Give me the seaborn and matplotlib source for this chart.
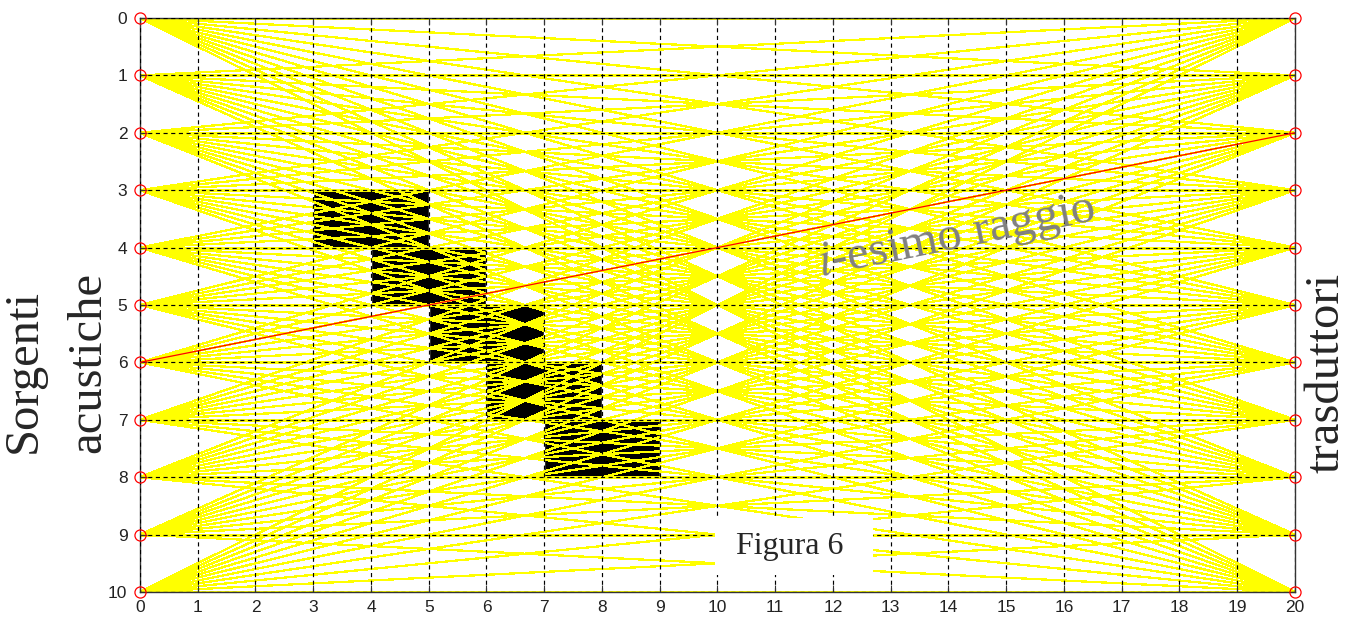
import numpy as np
import pandas as pd
import matplotlib.pyplot as plt
import seaborn as sns
from matplotlib.patches import Rectangle

sns.set_style('ticks')
plt.rcParams['font.family'] = ['Liberation Sans', 'DejaVu Sans']
plt.rcParams['mathtext.fontset'] = 'stix'

# geometry of the experiment
x_src = 0
x_rcv = 20
sources = [0, 1, 2, 3, 4, 5, 6, 7, 8, 9, 10]
receivers = [0, 1, 2, 3, 4, 5, 6, 7, 8, 9, 10]

# highlighted ray (source 6 -> receiver 2)
ray_src = 6
ray_rcv = 2

# anomaly blocks (left edge, top row, width in cells)
block_left = [3, 4, 5, 6, 7]
block_top = [3, 4, 5, 6, 7]
block_width = [2, 2, 2, 2, 2]

#%%
rows = []
for s in sources:
    for r in receivers:
        rows.append({'ray': f'{s}-{r}', 'x': x_src, 'y': s})
        rows.append({'ray': f'{s}-{r}', 'x': x_rcv, 'y': r})
rays = pd.DataFrame(rows)
ray_i = pd.DataFrame({'x': [x_src, x_rcv], 'y': [ray_src, ray_rcv]})

#%%
fig = plt.figure(figsize=(13.55, 6.18), dpi=100)
ax = fig.add_axes([0.1033, 0.0421, 0.8524, 0.9288])

ax.barh(block_top, block_width, left=block_left, height=1, align='edge',
        color='black', zorder=1)
sns.lineplot(data=rays, x='x', y='y', units='ray', estimator=None,
             color='#ffff00', lw=0.9, antialiased=False, ax=ax,
             legend=False, zorder=2)
sns.lineplot(data=ray_i, x='x', y='y', color='red', lw=0.9, ax=ax,
             legend=False, zorder=3.5)
ax.plot([x_src] * len(sources), sources, 'o', mfc='none', mec='red',
        ms=8, mew=0.9, clip_on=False, zorder=5)
ax.plot([x_rcv] * len(receivers), receivers, 'o', mfc='none', mec='red',
        ms=8, mew=0.9, clip_on=False, zorder=5)

ax.set_xlim(0, 20)
ax.set_ylim(10, 0)
ax.set_xticks(range(0, 21))
ax.set_yticks(range(0, 11))
ax.set_xlabel('')
ax.set_ylabel('')
ax.set_axisbelow(False)
ax.grid(True, color='black', ls=(0, (3.5, 3)), lw=0.85)
ax.tick_params(direction='in', length=5, top=True, right=True,
               labelsize=12.5, labelcolor='#222222', color='#333333')
ax.tick_params(axis='y', pad=9)
ax.tick_params(axis='x', pad=6)
for sp in ax.spines.values():
    sp.set_visible(True)
    sp.set_color('#333333')
    sp.set_linewidth(1.0)

#%%
ax.text(14.15, 3.82, '$i$-esimo raggio', rotation=11.5, rotation_mode='anchor',
        ha='center', va='center', color='#808080', size=35,
        family='Liberation Serif', zorder=6)

ax.add_patch(Rectangle((0.4978, 0.0296), 0.1368, 0.0993, transform=ax.transAxes,
                       fc='white', ec='none', zorder=6))
ax.text(0.5628, 0.0784, 'Figura 6', transform=ax.transAxes, ha='center',
        va='center', size=23, family='Liberation Serif', zorder=7)

fig.text(0.0173, 0.267, 'Sorgenti', rotation=90, ha='center', va='bottom',
         size=35, family='Liberation Serif')
fig.text(0.0653, 0.267, 'acustiche', rotation=90, ha='center', va='bottom',
         size=35, family='Liberation Serif')
fig.text(0.979, 0.3964, 'trasduttori', rotation=90, ha='center', va='center',
         size=35, family='Liberation Serif')

fig.savefig('out.png', dpi=100)
